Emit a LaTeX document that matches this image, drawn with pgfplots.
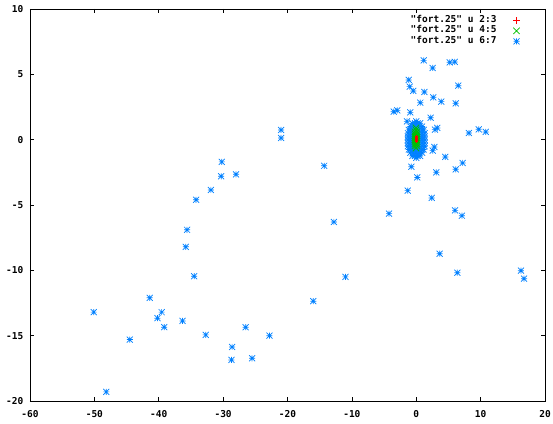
\documentclass[border=0pt]{standalone}
\usepackage{fontspec}
\setmonofont{DejaVu Sans Mono}
\usepackage{pgfplots}
\pgfplotsset{compat=1.18}

\definecolor{gpred}{RGB}{255,0,0}
\definecolor{gpgreen}{RGB}{0,192,0}
\definecolor{gpblue}{RGB}{0,128,255}

% gnuplot style asterisk: + and x together
\pgfdeclareplotmark{gpstar}{%
  \pgfpathmoveto{\pgfpoint{-\pgfplotmarksize}{0pt}}\pgfpathlineto{\pgfpoint{\pgfplotmarksize}{0pt}}%
  \pgfpathmoveto{\pgfpoint{0pt}{-\pgfplotmarksize}}\pgfpathlineto{\pgfpoint{0pt}{\pgfplotmarksize}}%
  \pgfpathmoveto{\pgfpoint{-\pgfplotmarksize}{-\pgfplotmarksize}}\pgfpathlineto{\pgfpoint{\pgfplotmarksize}{\pgfplotmarksize}}%
  \pgfpathmoveto{\pgfpoint{-\pgfplotmarksize}{\pgfplotmarksize}}\pgfpathlineto{\pgfpoint{\pgfplotmarksize}{-\pgfplotmarksize}}%
  \pgfusepathqstroke}

\newcommand{\gpfont}{\ttfamily\bfseries\fontsize{9.5bp}{11bp}\selectfont}

\begin{document}
\begin{tikzpicture}
\begin{axis}[
    name=ax,
    width=515bp, height=392bp, scale only axis,
    xmin=-60, xmax=20, ymin=-20, ymax=10,
    xtick={-60,-50,...,20}, ytick={-20,-15,...,10},
    tick align=inside, major tick length=4bp,
    tick style={black, line width=0.6bp},
    axis line style={black, line width=0.6bp},
    ticklabel style={font=\gpfont},
    /pgf/number format/assume math mode=true,
    xticklabel style={inner sep=0pt, yshift=-9bp},
    yticklabel style={inner sep=0pt, xshift=-6.5bp},
    reverse legend,
    legend cell align=right,
    legend plot pos=right,
    legend style={draw=none, fill=none, at={(0.9567,0.985)}, anchor=north east,
        inner sep=0pt, row sep=0pt,
        nodes={inner sep=0pt, text height=7bp, text depth=3.5bp, font=\gpfont}},
    legend image code/.code={\path[draw=none] (0bp,0bp) -- (26bp,0bp); \draw plot coordinates {(20bp,0bp)};},
]

% u 6:7 (drawn first so the smaller clouds stay visible)
\addplot[only marks, gpblue, mark=gpstar, mark size=3bp, line width=0.7bp] coordinates {
    (-21.0,0.74) (-21.0,0.13) (-30.2,-1.7) (-14.3,-2.0) (-30.3,-2.8) (-28.0,-2.65)
    (-31.9,-3.85) (-34.2,-4.6) (-12.8,-6.3) (-35.6,-6.9) (-35.8,-8.2) (-34.5,-10.45)
    (-11.0,-10.5) (-41.4,-12.1) (-16.0,-12.36) (-50.1,-13.2) (-39.55,-13.2) (-40.2,-13.66)
    (-36.3,-13.87) (-39.15,-14.35) (-26.5,-14.35) (-44.5,-15.3) (-32.7,-14.94) (-22.8,-15.0)
    (-28.6,-15.86) (-28.7,-16.86) (-25.5,-16.73) (-48.15,-19.3)
    (1.16,6.07) (2.55,5.49) (5.2,5.92) (5.97,5.95) (-1.17,4.57) (-1.02,4.06) (-0.46,3.73)
    (6.53,4.13) (1.25,3.65) (2.65,3.24) (3.89,2.91) (0.63,2.83) (6.13,2.78) (-3.5,2.14)
    (-2.94,2.24) (-0.92,2.09) (2.24,1.68) (-1.44,1.40) (2.91,0.77) (3.27,0.9) (8.19,0.51)
    (9.7,0.79) (10.79,0.59) (2.8,-0.56) (2.55,-0.84) (4.51,-1.32) (-0.77,-2.07) (7.2,-1.78)
    (6.13,-2.27) (0.16,-2.89) (3.11,-2.5) (-1.33,-3.9) (2.4,-4.46) (-4.23,-5.66) (6.02,-5.41)
    (7.1,-5.82) (3.64,-8.73) (6.38,-10.18) (16.27,-10.03) (16.74,-10.64)
    (0,1.4)
    (-0.6,1.25) (-0.2,1.25) (0.2,1.25) (0.6,1.25)
    (-0.9,1.0) (-0.45,1.0) (0,1.0) (0.45,1.0) (0.9,1.0)
    (-1.15,0.75) (-0.9,0.75) (-0.45,0.75) (0,0.75) (0.45,0.75) (0.9,0.75) (1.15,0.75)
    (-1.3,0.5) (-0.9,0.5) (-0.45,0.5) (0,0.5) (0.45,0.5) (0.9,0.5) (1.3,0.5)
    (-1.3,0.25) (-0.9,0.25) (-0.45,0.25) (0,0.25) (0.45,0.25) (0.9,0.25) (1.3,0.25)
    (-1.3,0) (-0.9,0) (-0.45,0) (0,0) (0.45,0) (0.9,0) (1.3,0)
    (-1.3,-0.25) (-0.9,-0.25) (-0.45,-0.25) (0,-0.25) (0.45,-0.25) (0.9,-0.25) (1.3,-0.25)
    (-1.3,-0.5) (-0.9,-0.5) (-0.45,-0.5) (0,-0.5) (0.45,-0.5) (0.9,-0.5) (1.3,-0.5)
    (-1.15,-0.75) (-0.9,-0.75) (-0.45,-0.75) (0,-0.75) (0.45,-0.75) (0.9,-0.75) (1.15,-0.75)
    (-0.9,-1.0) (-0.45,-1.0) (0,-1.0) (0.45,-1.0) (0.9,-1.0)
    (-0.6,-1.25) (-0.2,-1.25) (0.2,-1.25) (0.6,-1.25)
    (0,-1.4)
};
\addlegendentry{"fort.25" u 6:7}

% u 4:5
\addplot[only marks, gpgreen, mark=x, mark size=4.5bp, line width=0.7bp] coordinates {
    (-0.05,0.9) (-0.05,0.75)
    (-0.2,0.6) (0.1,0.6) (-0.2,0.45) (0.1,0.45) (-0.2,0.3) (0.1,0.3)
    (-0.2,0.15) (-0.05,0.15) (0.1,0.15) (-0.2,0) (-0.05,0) (0.1,0)
    (-0.2,-0.15) (0.1,-0.15) (-0.2,-0.3) (0.1,-0.3) (-0.2,-0.45) (0.1,-0.45)
    (-0.05,-0.65)
};
\addlegendentry{"fort.25" u 4:5}

% u 2:3
\addplot[only marks, gpred, mark=+, mark size=1.5bp, line width=0.7bp,
    legend image code/.code={\path[draw=none] (0bp,0bp) -- (26bp,0bp); \draw[mark size=3.3bp] plot coordinates {(20bp,0bp)};}]
    coordinates {
    (0.07,-0.15) (0.07,-0.08) (0.07,0) (0.07,0.07) (0.07,0.14) (0.07,0.21) (0.07,0.28)
};
\addlegendentry{"fort.25" u 2:3}

\end{axis}
\path (ax.south west) ++(-30bp,-23bp) rectangle ([shift={(8bp,9bp)}]ax.north east);
\end{tikzpicture}
\end{document}
